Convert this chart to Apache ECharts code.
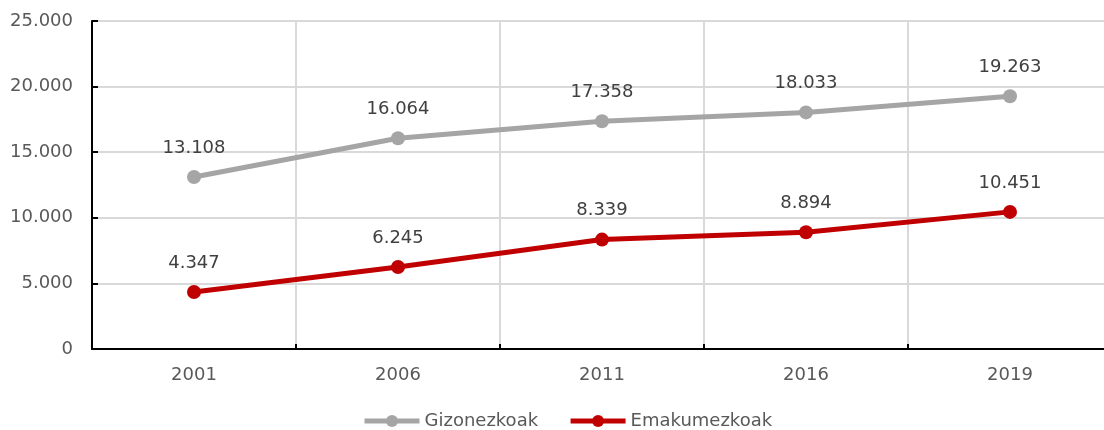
<!DOCTYPE html>
<html>
<head>
<meta charset="utf-8">
<script src="https://cdn.jsdelivr.net/npm/echarts@6/dist/echarts.min.js"></script>
<style>
html,body{margin:0;padding:0;background:#fff;overflow:hidden;width:1104px;height:430px;}
#chart{width:1112px;height:430px;}
</style>
</head>
<body>
<div id="chart"></div>
<script>
const categories = ['2001', '2006', '2011', '2016', '2019'];
const gizonezkoak = [13108, 16064, 17358, 18033, 19263];
const emakumezkoak = [4347, 6245, 8339, 8894, 10451];
const seriesNames = ['Gizonezkoak', 'Emakumezkoak'];

function fmt(v) {
  return String(Math.round(v)).replace(/\B(?=(\d{3})+(?!\d))/g, '.');
}

const FONT = 'DejaVu Sans';
const chart = echarts.init(document.getElementById('chart'));
chart.setOption({
  animation: false,
  textStyle: { fontFamily: FONT },
  grid: { left: 92, top: 21, right: 0, bottom: 81 },
  legend: {
    left: 362,
    top: 412,
    padding: 0,
    itemWidth: 55,
    itemHeight: 15,
    itemGap: 30,
    lineStyle: { width: 5 },
    textStyle: { fontFamily: FONT, fontSize: 18, color: '#595959' },
    data: seriesNames
  },
  xAxis: {
    type: 'category',
    data: categories,
    boundaryGap: true,
    axisLine: { lineStyle: { color: '#000', width: 2 } },
    axisTick: { show: true, inside: true, length: 5, lineStyle: { color: '#000', width: 2 } },
    axisLabel: { fontFamily: FONT, fontSize: 18, color: '#595959', margin: 17 },
    splitLine: { show: true, lineStyle: { color: '#d9d9d9', width: 2 } }
  },
  yAxis: {
    type: 'value',
    min: 0,
    max: 25000,
    interval: 5000,
    axisLine: { show: true, lineStyle: { color: '#000', width: 2 } },
    axisTick: { show: true, inside: true, length: 6, lineStyle: { color: '#000', width: 2 } },
    axisLabel: { fontFamily: FONT, fontSize: 18, color: '#595959', margin: 19, formatter: v => fmt(v) },
    splitLine: { show: true, lineStyle: { color: '#d9d9d9', width: 2 } }
  },
  series: [
    {
      name: seriesNames[0],
      type: 'line',
      data: gizonezkoak,
      color: '#a5a5a5',
      symbol: 'circle',
      symbolSize: 14,
      lineStyle: { width: 5, color: '#a5a5a5' },
      itemStyle: { color: '#a5a5a5' },
      label: { show: true, position: 'top', distance: 13, fontFamily: FONT, fontSize: 18, color: '#404040', formatter: p => fmt(p.value) }
    },
    {
      name: seriesNames[1],
      type: 'line',
      data: emakumezkoak,
      color: '#c00000',
      symbol: 'circle',
      symbolSize: 14,
      lineStyle: { width: 5, color: '#c00000' },
      itemStyle: { color: '#c00000' },
      label: { show: true, position: 'top', distance: 13, fontFamily: FONT, fontSize: 18, color: '#404040', formatter: p => fmt(p.value) }
    }
  ]
});
</script>
</body>
</html>
